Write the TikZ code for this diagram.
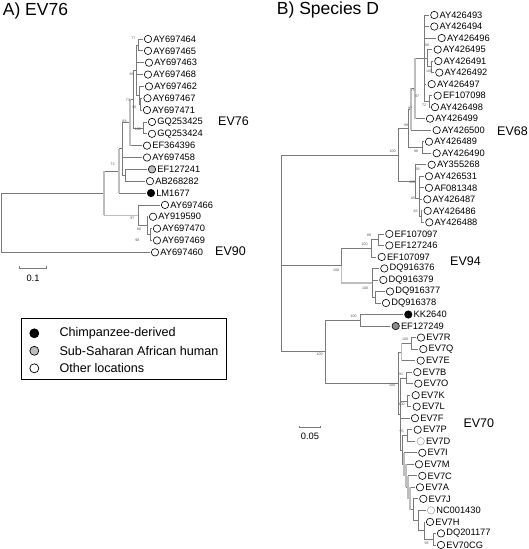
\documentclass[tikz,border=0pt]{standalone}
\usepackage{fontspec}
\setmainfont{Liberation Sans}
\definecolor{brc}{HTML}{7A7A7A}
\definecolor{brlc}{HTML}{BEBEBE}
\definecolor{bsc}{HTML}{555555}
\definecolor{afr}{HTML}{BDBDBD}
\definecolor{afr2}{HTML}{8C8C8C}
\definecolor{faint}{HTML}{A8A8A8}
\begin{document}
\begin{tikzpicture}[x=1pt,y=-1pt,
  br/.style={draw=brc, line width=0.75pt},
  brl/.style={draw=brlc, line width=1.4pt},
  lbr/.style={draw=brc, line width=0.75pt, shorten >=1.3pt},
  leafc/.style={circle, line width=0.6pt, minimum size=7.4pt, inner sep=0pt},
  leaft/.style={anchor=west, inner sep=0pt, font=\fontsize{9.3}{10}\selectfont},
  bs/.style={inner sep=0pt, font=\fontsize{3.6}{4}\selectfont, text=bsc},
  clade/.style={anchor=west, inner sep=0pt, font=\fontsize{12.5}{14}\selectfont},
  ttl/.style={anchor=base west, inner sep=0pt, font=\fontsize{17.5}{20}\selectfont},
  legc/.style={circle, draw=black, line width=0.7pt, minimum size=9pt, inner sep=0pt},
  legt/.style={anchor=west, inner sep=0pt, font=\fontsize{12.6}{14}\selectfont},
]
\useasboundingbox (0,0) rectangle (529,549);

% ---------- titles
\node[ttl] (ta) at (2.7,15) {A) EV76};
\node[ttl] (tb) at (276.7,14.5) {B) Species D};

% ---------- left tree leaves
\foreach \i/\x/\t/\f/\d in {
 0/148/AY697464/white/black, 1/148/AY697465/white/black, 2/149/AY697463/white/black,
 3/148/AY697468/white/black, 4/149/AY697462/white/black, 5/147.5/AY697467/white/black,
 6/147/AY697471/white/black, 7/152/GQ253425/white/black, 8/152/GQ253424/white/black,
 9/147/EF364396/white/black, 10/147/AY697458/white/black, 11/152/EF127241/afr/black,
 12/150/AB268282/white/black, 13/151/LM1677/black/black, 14/165/AY697466/white/black,
 15/153/AY919590/white/black, 16/157/AY697470/white/black, 17/157/AY697469/white/black,
 18/155/AY697460/white/black}{
  \node[leafc, fill=\f, draw=\d] (l\i) at (\x,{39+11.85*\i}) {};
  \node[leaft] (lt\i) at ([xshift=1.1pt]l\i.east) {\t};
}

% left internal nodes
\coordinate (LR) at (1,193.1);
\coordinate (LA) at (104,193.1);
\coordinate (LB) at (119,170.9);
\coordinate (LC) at (122,148.8);
\coordinate (LD) at (130,122.3);
\coordinate (LE) at (133,99);
\coordinate (LF) at (136,70.1);
\coordinate (LH) at (138.5,44.9);
\coordinate (LI) at (139,95.3);
\coordinate (LJ) at (140.5,104.2);
\coordinate (LG) at (143,127.9);
\coordinate (LQ) at (125,175.3);
\coordinate (LK) at (138,215.3);
\coordinate (LL) at (147,225.6);
\coordinate (LM) at (150.5,234.5);

\foreach \p/\c in {LR/LA, LA/LB, LA/LK, LB/LC, LC/LD, LC/LQ, LD/LE, LE/LF, LE/LG,
  LF/LH, LF/LI, LI/LJ, LK/LL, LL/LM}{
  \draw[br] (\p) |- (\c);
}
\foreach \p/\c in {LH/l0, LH/l1, LF/l2, LF/l3, LI/l4, LJ/l5, LJ/l6, LG/l7, LG/l8,
  LD/l9, LC/l10, LQ/l11, LQ/l12, LB/l13, LK/l14, LL/l15, LM/l16, LM/l17, LR/l18}{
  \draw[lbr] (\p) |- (\c.west);
}
% lighter segments
\draw[brl] (LB -| LA) -- (LK -| LA);
\draw[brl] (LA |- LK) -- (LK);
\draw[brl] (LC -| LB) -- (l13 -| LB);
\draw[brl] (LE -| LD) -- (l9 -| LD);

% left bootstrap values
\node[bs] (lb1) at (133.3,37.8) {77};
\node[bs] (lb2) at (131.7,74.5) {88};
\node[bs] (lb3) at (128,100.5) {73};
\node[bs] (lb4) at (134.3,107.3) {96};
\node[bs] (lb5) at (137.8,129.5) {100};
\node[bs] (lb6) at (124.5,121) {88};
\node[bs] (lb7) at (112.5,164) {73};
\node[bs] (lb8) at (132.3,218.3) {97};
\node[bs] (lb9) at (139,229) {98};
\node[bs] (lb10) at (137.3,240.7) {98};

\node[clade] (c76) at (218,121) {EV76};
\node[clade] (c90) at (215,250.8) {EV90};

% left scale bar
\coordinate (s1a) at (19.3,268.3);
\coordinate (s1b) at (46.7,268.3);
\draw[br] ([yshift=2pt]s1a) -- (s1a) -- (s1b) -- ([yshift=2pt]s1b);
\node[leaft, anchor=center] (s1t) at (33,278.5) {0.1};

% ---------- legend
\node[draw=black, line width=0.7pt, minimum width=205.3pt, minimum height=60.7pt,
  anchor=north west, inner sep=0pt] (leg) at (20.7,318.3) {};
\node[legc, fill=black] (g1) at (34.3,333.3) {};
\node[legc, fill=afr] (g2) at (34.3,350.8) {};
\node[legc, fill=white] (g3) at (34.3,368.3) {};
\node[legt] (gt1) at (59.3,333.3) {Chimpanzee-derived};
\node[legt] (gt2) at (59.3,350.8) {Sub-Saharan African human};
\node[legt] (gt3) at (59.3,368.3) {Other locations};

% ---------- right tree leaves
\foreach \i/\x/\t/\f/\d in {
 0/434.3/AY426493/white/black, 1/434.3/AY426494/white/black, 2/441.7/AY426496/white/black,
 3/437.7/AY426495/white/black, 4/438.3/AY426491/white/black, 5/439.3/AY426492/white/black,
 6/431.7/AY426497/white/black, 7/437.7/EF107098/white/black, 8/435/AY426498/white/black,
 9/430/AY426499/white/black, 10/436.7/AY426500/white/black, 11/429/AY426489/white/black,
 12/436.7/AY426490/white/black, 13/431.7/AY355268/white/black, 14/429/AY426531/white/black,
 15/429/AF081348/white/black, 16/427.3/AY426487/white/black, 17/427.7/AY426486/white/black,
 18/429.3/AY426488/white/black, 19/389.3/EF107097/white/black, 20/389.3/EF127246/white/black,
 21/381.7/EF107097/white/black, 22/384.3/DQ916376/white/black, 23/383.3/DQ916379/white/black,
 24/390/DQ916377/white/black, 25/386/DQ916378/white/black, 26/408.3/KK2640/black/black,
 27/395.7/EF127249/afr2/black, 28/421/EV7R/white/black, 29/423.3/EV7Q/white/black,
 30/420.7/EV7E/white/black, 31/417.3/EV7B/white/black, 32/418.3/EV7O/white/black,
 33/415.7/EV7K/white/black, 34/416.7/EV7L/white/black, 35/415/EV7F/white/black,
 36/417.7/EV7P/white/black, 37/420.7/EV7D/white/faint, 38/422.3/EV7I/white/black,
 39/419/EV7M/white/black, 40/422.3/EV7C/white/black, 41/420/EV7A/white/black,
 42/423.3/EV7J/white/black, 43/431/NC001430/white/faint, 44/430/EV7H/white/black,
 45/441/DQ201177/white/black, 46/441/EV70CG/white/black}{
  \node[leafc, fill=\f, draw=\d] (r\i) at (\x,{15+11.52*\i}) {};
  \node[leaft] (rt\i) at ([xshift=1.1pt]r\i.east) {\t};
}

% right internal nodes
\coordinate (RR) at (281.5,155);
\coordinate (N68) at (398.3,155);
\coordinate (X) at (408,128.4);
\coordinate (X1) at (411,109.3);
\coordinate (X2) at (415,88.4);
\coordinate (X3) at (424,58.2);
\coordinate (W) at (427,58.2);
\coordinate (V) at (431,66.8);
\coordinate (U) at (429,101.3);
\coordinate (Z) at (422,147.5);
\coordinate (Y) at (415,181.6);
\coordinate (Y2) at (419,198.4);
\coordinate (Y4) at (421,216.7);
\coordinate (E94) at (341.7,265.6);
\coordinate (S) at (371.7,248.3);
\coordinate (S1) at (378,239.7);
\coordinate (T) at (372,282.8);
\coordinate (T2) at (375,297.2);
\coordinate (P) at (325,351.7);
\coordinate (K2) at (360,320.3);
\coordinate (N70) at (398.3,383);
\coordinate (A70) at (401.7,352);
\coordinate (A71) at (411,343.4);
\coordinate (B70) at (400,413.9);
\coordinate (Q1) at (406.5,377.9);
\coordinate (Q2) at (407,401);
\coordinate (B71) at (402,449.9);
\coordinate (Q3) at (407.5,435.5);
\coordinate (B72) at (404,464.3);
\coordinate (B73) at (406,475.7);
\coordinate (B74) at (408,487.1);
\coordinate (B75) at (410,498.5);
\coordinate (B76) at (413,509.6);
\coordinate (B77) at (418,520.5);
\coordinate (B78) at (424,530.5);
\coordinate (Q4) at (433,539.2);

\foreach \p/\c in {RR/N68, RR/E94, RR/P, N68/X, N68/Y, X/X1, X/Z, X1/X2, X2/X3, X3/W,
  X3/U, W/V, Y/Y2, Y2/Y4, E94/S, E94/T, S/S1, T/T2, P/K2, P/N70, N70/A70, N70/B70,
  A70/A71, B70/Q1, B70/Q2, B70/B71, B71/Q3, B71/B72, B72/B73, B73/B74, B74/B75,
  B75/B76, B76/B77, B77/B78, B78/Q4}{
  \draw[br] (\p) |- (\c);
}
\foreach \p/\c in {X3/r0, X3/r1, X3/r2, W/r3, V/r4, V/r5, X3/r6, U/r7, U/r8, X2/r9,
  X1/r10, Z/r11, Z/r12, Y/r13, Y2/r14, Y2/r15, Y2/r16, Y4/r17, Y4/r18, S1/r19, S1/r20,
  S/r21, T/r22, T/r23, T2/r24, T2/r25, K2/r26, K2/r27, A71/r28, A71/r29, A70/r30,
  Q1/r31, Q1/r32, Q2/r33, Q2/r34, B70/r35, Q3/r36, Q3/r37, B72/r38, B73/r39, B74/r40,
  B75/r41, B76/r42, B77/r43, B78/r44, Q4/r45, Q4/r46}{
  \draw[lbr] (\p) |- (\c.west);
}
% lighter segments
\draw[brl] (X2 -| X1) -- (r10 -| X1);
\draw[brl] (X3 -| X2) -- (r9 -| X2);
\draw[brl] (E94) -- (T -| E94) -- (T);
\draw[brl] (A71 -| A70) -- (r30 -| A70);
\draw[brl] (r38 -| B72) -- (B73 -| B72);
\draw[brl] (r39 -| B73) -- (B74 -| B73);
\draw[brl] (r40 -| B74) -- (B75 -| B74);
\draw[brl] (r41 -| B75) -- (B76 -| B75);

% right bootstrap values
\node[bs] (rb1) at (427,45) {88};
\node[bs] (rb2) at (429,71) {100};
\node[bs] (rb3) at (412.5,90.5) {73};
\node[bs] (rb4) at (417,96) {97};
\node[bs] (rb5) at (424,105) {72};
\node[bs] (rb6) at (410,108.5) {97};
\node[bs] (rb7) at (406,125.5) {99};
\node[bs] (rb8) at (392.5,151) {100};
\node[bs] (rb9) at (416,151) {98};
\node[bs] (rb10) at (417.5,169) {99};
\node[bs] (rb11) at (412,182) {100};
\node[bs] (rb12) at (413,198.5) {85};
\node[bs] (rb13) at (415.5,211) {83};
\node[bs] (rb14) at (369,235.7) {88};
\node[bs] (rb15) at (364.5,244.5) {100};
\node[bs] (rb16) at (336,270.5) {100};
\node[bs] (rb17) at (365,288.5) {100};
\node[bs] (rb18) at (353.5,316.7) {100};
\node[bs] (rb19) at (319.5,354.3) {100};
\node[bs] (rb20) at (405,339.3) {100};
\node[bs] (rb21) at (401,374) {91};
\node[bs] (rb22) at (392,385.7) {100};
\node[bs] (rb23) at (401.7,404) {100};
\node[bs] (rb24) at (401.7,431.7) {95};
\node[bs] (rb25) at (426.7,543.3) {96};

\node[clade] (c68) at (497,131) {EV68};
\node[clade] (c94) at (450,261.5) {EV94};
\node[clade] (c70) at (463.3,423.3) {EV70};

% right scale bar
\coordinate (s2a) at (299.3,427.7);
\coordinate (s2b) at (320.7,427.7);
\draw[br] ([yshift=2pt]s2a) -- (s2a) -- (s2b) -- ([yshift=2pt]s2b);
\node[leaft, anchor=center] (s2t) at (310,436.5) {0.05};
\end{tikzpicture}
\end{document}
